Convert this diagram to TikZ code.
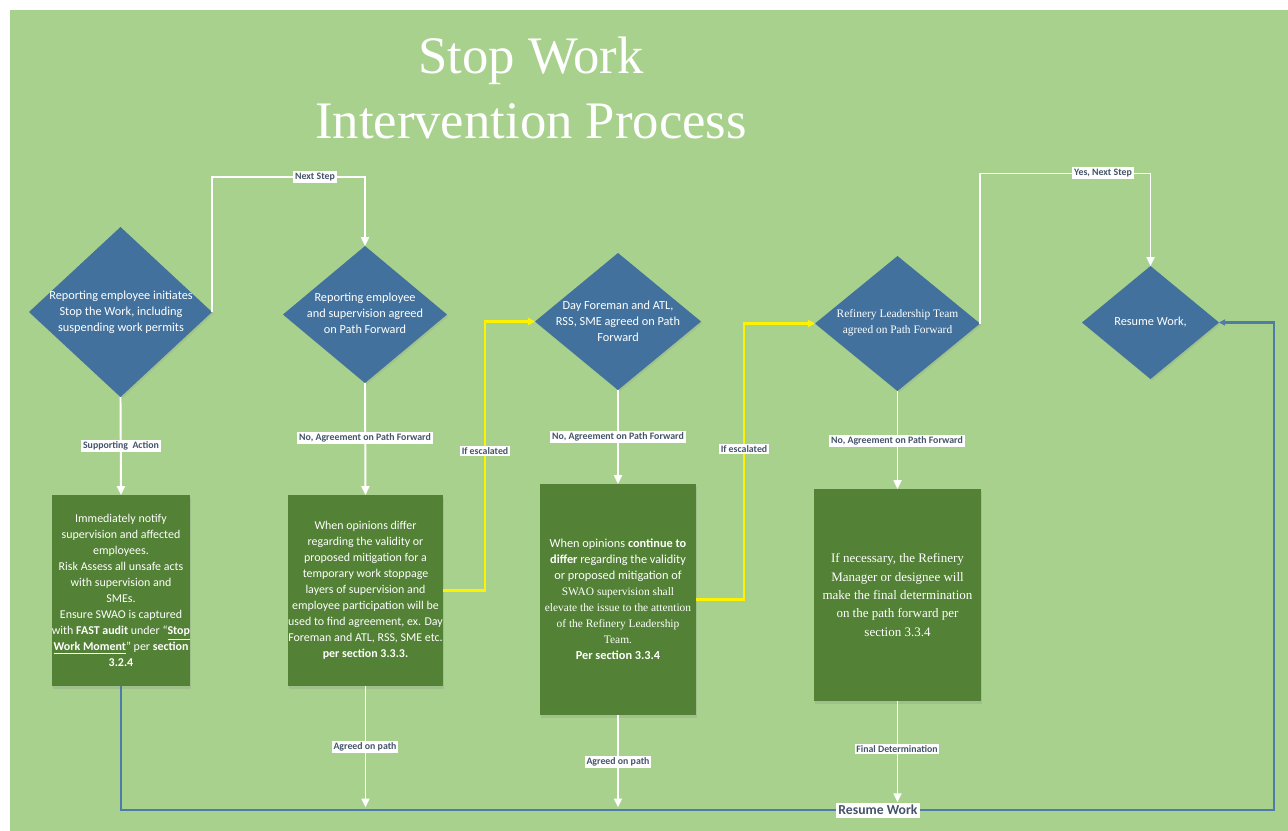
\documentclass[tikz,border=0pt]{standalone}
\usepackage{fontspec}
\setmainfont{Carlito}
\newfontfamily\timesfam{Liberation Serif}
\usepackage{tikz}
\usetikzlibrary{arrows.meta, positioning, shapes.geometric, shadows}
\usepackage{xcolor}
\definecolor{swgreen}{HTML}{A9D18E}
\definecolor{swblue}{HTML}{41719C}
\definecolor{swbox}{HTML}{538135}
\definecolor{swtext}{HTML}{44546A}
\definecolor{swloop}{HTML}{4E7CA8}
% serif line inside a sans box
\newcommand{\serifline}[1]{{\timesfam\fontsize{6.5}{9.1}\selectfont #1}}

\begin{document}
\begin{tikzpicture}[
  x=0.02cm, y=-0.02cm,
  decision/.style 2 args={diamond, fill=swblue, inner sep=0pt, outer sep=0pt,
    minimum width=#1*0.02cm, minimum height=#2*0.02cm,
    drop shadow={opacity=0.18, shadow xshift=0.8pt, shadow yshift=-1pt}},
  dtext/.style={text=white, align=center, inner sep=0pt,
    font=\fontsize{7}{9.1}\selectfont},
  action/.style 2 args={rectangle, fill=swbox, text=white, align=center,
    inner xsep=0pt, inner ysep=2pt, outer sep=0pt,
    minimum width=#1*0.02cm, minimum height=#2*0.02cm,
    font=\fontsize{7}{9.1}\selectfont,
    drop shadow={opacity=0.2, shadow xshift=0.5pt, shadow yshift=-1.5pt}},
  tag/.style={fill=white, text=swtext, inner sep=1pt,
    font=\bfseries\fontsize{5.6}{6.5}\selectfont},
  flow/.style={white, line width=1.1pt, -{Triangle[length=5pt, width=4.5pt]}},
  escalate/.style={yellow, line width=1.4pt, -{Triangle[length=4pt, width=4pt]}},
  loopback/.style={swloop, line width=1.4pt, -{Triangle[length=3.5pt, width=3.5pt]}}
]
  \useasboundingbox (0,0) rectangle (1288,831);
  \fill[swgreen] (10,10) rectangle (1288,831);

  % Title
  \node[text=white, align=center, font=\timesfam\fontsize{30}{37.5}\selectfont]
    (title) at (531,88) {Stop Work\\Intervention Process};

  % Decisions
  \node[decision={183}{170}] (d1) at (120.5,312) {};
  \node[decision={164}{137}] (d2) at (365,314.5) {};
  \node[decision={166}{137}] (d3) at (618,321.5) {};
  \node[decision={165}{135}] (d4) at (897.5,323.5) {};
  \node[decision={137}{113}] (d5) at (1150.5,322.5) {};

  \node[dtext] (d1t) at (121,312) {Reporting employee initiates\\Stop the Work, including\\suspending work permits};
  \node[dtext] (d2t) at (365,313) {Reporting employee\\and supervision agreed\\on Path Forward};
  \node[dtext] (d3t) at (618,321.5) {Day Foreman and ATL,\\RSS, SME agreed on Path\\Forward};
  \node[dtext, font=\timesfam\fontsize{6.5}{9.1}\selectfont] (d4t) at (897.5,323)
    {Refinery Leadership Team\\agreed on Path Forward};
  \node[dtext] (d5t) at (1150.5,322) {Resume Work,};

  % Actions
  \node[action={138}{191}, font=\fontsize{6.8}{9.1}\selectfont] (b1) at (121,590.5)
    {Immediately notify\\supervision and affected\\employees.\\Risk Assess all unsafe acts\\with supervision and\\SMEs.\\Ensure SWAO is captured\\with \textbf{FAST audit} under “\textbf{\underline{Stop}}\\\textbf{\underline{Work Moment}}” per \textbf{section}\\\textbf{3.2.4}};
  \node[action={155}{191}, font=\fontsize{6.8}{9.1}\selectfont] (b2) at (365.5,590.5)
    {When opinions differ\\regarding the validity or\\proposed mitigation for a\\temporary work stoppage\\layers of supervision and\\employee participation will be\\used to find agreement, ex. Day\\Foreman and ATL, RSS, SME etc.\\\textbf{per section 3.3.3.}};
  \node[action={156}{231}] (b3) at (618,599.5)
    {When opinions \textbf{continue to}\\\textbf{differ} regarding the validity\\or proposed mitigation of\\\serifline{SWAO supervision shall}\\\serifline{elevate the issue to the attention}\\\serifline{of the Refinery Leadership}\\\serifline{Team.}\\\textbf{Per section 3.3.4}};
  \node[action={167}{212}, font=\timesfam\fontsize{7.4}{10.5}\selectfont] (b4) at (897.5,595)
    {If necessary, the Refinery\\Manager or designee will\\make the final determination\\on the path forward per\\section 3.3.4};

  \coordinate (corner) at (1274,810);
  \node[tag, font=\bfseries\fontsize{7.8}{9}\selectfont, inner sep=1.5pt] (resume) at (878,810) {Resume Work};

  % Return line
  \draw[loopback] (b1.south) |- (corner) |- (d5.east);
  \node[tag, font=\bfseries\fontsize{7.8}{9}\selectfont, inner sep=1.5pt] at (resume) {Resume Work};

  % Main flow
  \draw[flow] (d1.east) -- ++(0,-135) -| (d2.north);
  \draw[flow] (d4.east) -- ++(0,-150) -| (d5.north);
  \draw[flow] (d1.south) -- (b1.north);
  \draw[flow] (d2.south) -- (b2.north);
  \draw[flow] (d3.south) -- (b3.north);
  \draw[flow] (d4.south) -- (b4.north);
  \draw[flow, shorten >=1.5pt] (b2.south) -- (b2.south |- corner);
  \draw[flow, shorten >=1.5pt] (b3.south) -- (b3.south |- corner);
  \draw[flow] (b4.south) -- (b4.south |- resume.north);

  % Escalation
  \draw[escalate] (b2.east) -- ++(42,0) |- (d3.west);
  \draw[escalate] (b3.east) -- ++(48,0) |- (d4.west);

  % Labels
  \node[tag] (lnext) at (315,177) {Next Step};
  \node[tag] (lyes) at (1103,173) {Yes, Next Step};
  \node[tag] (lsup) at (121,446) {Supporting\ \ Action};
  \node[tag] (lno1) at (365,438) {No, Agreement on Path Forward};
  \node[tag] (lno2) at (618,437) {No, Agreement on Path Forward};
  \node[tag] (lno3) at (897,441) {No, Agreement on Path Forward};
  \node[tag] (lesc1) at (485,451) {If escalated};
  \node[tag] (lesc2) at (744,449) {If escalated};
  \node[tag] (lagr1) at (365,747) {Agreed on path};
  \node[tag] (lagr2) at (618,762) {Agreed on path};
  \node[tag] (lfin) at (897,749) {Final Determination};
\end{tikzpicture}
\end{document}
